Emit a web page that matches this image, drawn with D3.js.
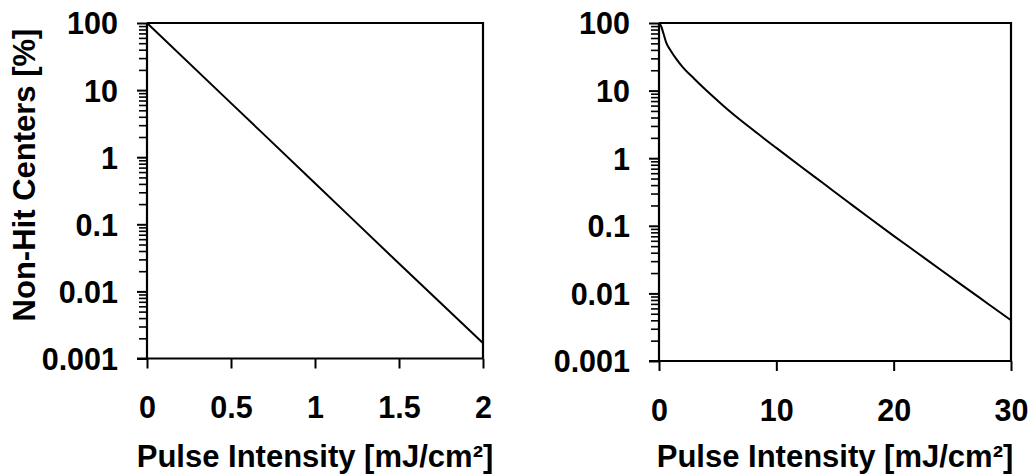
<!DOCTYPE html>
<html>
<head>
<meta charset="utf-8">
<script src="https://cdn.jsdelivr.net/npm/d3@7"></script>
<style>
  html, body { margin: 0; padding: 0; background: #fff; }
  svg { display: block; }
  text { font-family: "Liberation Sans", Arial, sans-serif; font-weight: bold; fill: #000; }
</style>
</head>
<body>
<svg id="chart" width="1034" height="475"></svg>
<script>
// Fraction of centers not hit vs. pulse intensity
const leftIntensity = [0, 0.5, 1, 1.5, 2];
const leftNonHit = [100, 6.4, 0.41, 0.026, 0.0017];

const rightIntensity = [0, 0.2, 0.4, 0.6, 1, 1.5, 2, 3, 4, 5, 6, 8, 10, 12, 14, 16, 18, 20, 22, 24, 26, 28, 30];
const rightNonHit = [100, 88, 68, 52, 39, 29, 22.5, 15, 10.2, 7.1, 5.0, 2.63, 1.42, 0.775, 0.425, 0.233, 0.128, 0.071, 0.040, 0.0224, 0.0126, 0.0071, 0.0040];

const leftXTicks = [0, 0.5, 1, 1.5, 2];
const rightXTicks = [0, 10, 20, 30];
const yTicks = [100, 10, 1, 0.1, 0.01, 0.001];
const yTickLabels = ["100", "10", "1", "0.1", "0.01", "0.001"];

const xTitle = "Pulse Intensity [mJ/cm\u00B2]";
const yTitle = "Non-Hit Centers [%]";

const svg = d3.select("#chart");

function panel(opts) {
  const { x0, x1, y0, y1, xDomain, xTicks, xs, ys } = opts;
  const g = svg.append("g");
  const x = d3.scaleLinear().domain(xDomain).range([x0, x1]);
  const y = d3.scaleLog().domain([0.001, 100]).range([y1, y0]);

  // minor log ticks on y
  const minor = [];
  for (let e = -3; e < 2; e++) {
    for (let m = 2; m <= 9; m++) minor.push(m * Math.pow(10, e));
  }
  const yMinor = d3.axisLeft(y).tickValues(minor).tickSize(8).tickFormat("");
  const gm = g.append("g").attr("transform", `translate(${x0},0)`).call(yMinor);
  gm.select(".domain").remove();
  gm.selectAll("line").attr("stroke", "#000").attr("stroke-width", 1.6);

  const yAxis = d3.axisLeft(y).tickValues(yTicks).tickSize(10).tickPadding(19)
    .tickFormat((d, i) => yTickLabels[i]);
  const gy = g.append("g").attr("transform", `translate(${x0},0)`).call(yAxis);
  gy.select(".domain").attr("stroke", "#000").attr("stroke-width", 2.2).attr("d", `M0,${y1}V${y0}`);
  gy.selectAll("line").attr("stroke", "#000").attr("stroke-width", 2);
  gy.selectAll("text").attr("font-size", 30.5).attr("font-family", null).attr("dy", "0.36em");

  const xAxis = d3.axisBottom(x).tickValues(xTicks).tickSize(10).tickPadding(28)
    .tickFormat(d3.format("~g"));
  const gx = g.append("g").attr("transform", `translate(0,${y1})`).call(xAxis);
  gx.select(".domain").attr("stroke", "#000").attr("stroke-width", 2.2).attr("d", `M${x0 - 10},0H${x1}`);
  gx.selectAll("line").attr("stroke", "#000").attr("stroke-width", 2);
  gx.selectAll("text").attr("font-size", 30.5).attr("font-family", null);

  // frame top and right
  g.append("path")
    .attr("d", `M${x0},${y0}H${x1}V${y1}`)
    .attr("fill", "none").attr("stroke", "#000").attr("stroke-width", 2.2);

  const line = d3.line().x((d, i) => x(xs[i])).y((d, i) => y(ys[i])).curve(d3.curveMonotoneX);
  g.append("path").datum(xs).attr("d", line)
    .attr("fill", "none").attr("stroke", "#000").attr("stroke-width", 2);

  g.append("text")
    .attr("x", (x0 + x1) / 2).attr("y", 467)
    .attr("text-anchor", "middle").attr("font-size", 31)
    .text(xTitle);
  return g;
}

panel({ x0: 147, x1: 483, y0: 23, y1: 358.5, xDomain: [0, 2], xTicks: leftXTicks, xs: leftIntensity, ys: leftNonHit });
panel({ x0: 659, x1: 1011, y0: 23, y1: 361, xDomain: [0, 30], xTicks: rightXTicks, xs: rightIntensity, ys: rightNonHit });

svg.append("text")
  .attr("transform", "translate(35,175) rotate(-90)")
  .attr("text-anchor", "middle").attr("font-size", 31)
  .text(yTitle);
</script>
</body>
</html>
